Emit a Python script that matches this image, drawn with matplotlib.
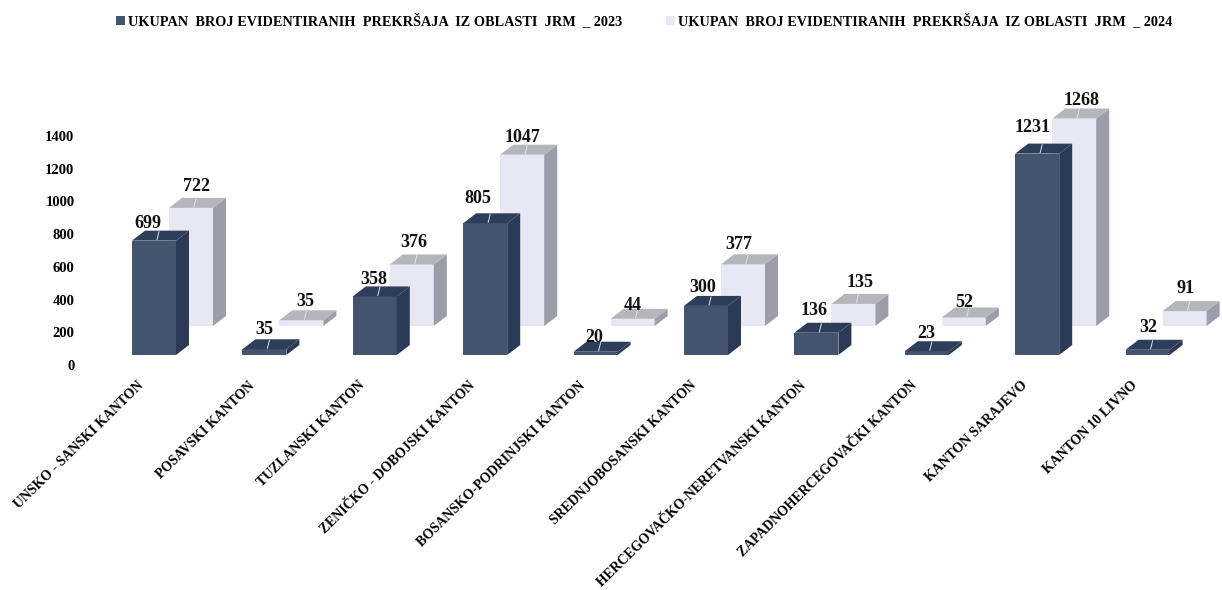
import matplotlib.pyplot as plt
from matplotlib.patches import Polygon

# Data
kantoni = ['UNSKO - SANSKI KANTON', 'POSAVSKI KANTON', 'TUZLANSKI KANTON', 'ZENIČKO - DOBOJSKI KANTON',
           'BOSANSKO-PODRINJSKI KANTON', 'SREDNJOBOSANSKI KANTON', 'HERCEGOVAČKO-NERETVANSKI KANTON',
           'ZAPADNOHERCEGOVAČKI KANTON', 'KANTON SARAJEVO', 'KANTON 10 LIVNO']
prekrsaji_2023 = [699, 35, 358, 805, 20, 300, 136, 23, 1231, 32]
prekrsaji_2024 = [722, 35, 376, 1047, 44, 377, 135, 52, 1268, 91]
y_ticks = [0, 200, 400, 600, 800, 1000, 1200, 1400]
label_2023 = 'UKUPAN  BROJ EVIDENTIRANIH  PREKRŠAJA  IZ OBLASTI  JRM  _ 2023'
label_2024 = 'UKUPAN  BROJ EVIDENTIRANIH  PREKRŠAJA  IZ OBLASTI  JRM  _ 2024'

# Label nudges in pixels (dx, dy above the front top edge)
nudge_2023 = [(-6, 17), (0, 20), (-1, 17), (-7, 25), (-1, 14), (-3, 18), (-2, 22), (-1, 18), (-5, 26), (1, 22)]
nudge_2024 = [(5, 21), (4, 19), (2, 22), (0, 17), (0, 13), (-4, 20), (7, 21), (0, 15), (7, 18), (1, 23)]

plt.rcParams['font.family'] = ['Liberation Serif', 'DejaVu Serif']
plt.rcParams['font.weight'] = 'bold'

W, H = 1222, 590
PX_X = 110.4      # pixels per category
PX_Y = 0.1636     # pixels per value unit
AX_LEFT = 80

fig = plt.figure(figsize=(W / 100, H / 100), dpi=100)
# axis zero sits at pixel row 365, top of the axes at row 0
ax = fig.add_axes([AX_LEFT / W, (H - 365) / H, (W - AX_LEFT) / W, 365 / H])
ax.set_xlim((AX_LEFT - 154) / PX_X, (W - 154) / PX_X)
ax.set_ylim(0, 365 / PX_Y)

bar_w = 44 / PX_X
depth_x = 13 / PX_X
depth_y = 10 / PX_Y


def draw_series(values, name, shift_x, floor, front, side, top, nudge):
    xs = [i + shift_x for i in range(len(values))]
    bars = ax.bar(xs, values, width=bar_w, bottom=floor, color=front, label=name, zorder=3, linewidth=0)
    for x, v, (dx, dy) in zip(xs, values, nudge):
        left, right = x - bar_w / 2, x + bar_w / 2
        y0, y1 = floor, floor + v
        ax.add_patch(Polygon([(right, y0), (right + depth_x, y0 + depth_y), (right + depth_x, y1 + depth_y), (right, y1)],
                             closed=True, fc=side, ec='none', zorder=3))
        ax.add_patch(Polygon([(left, y1), (left + depth_x, y1 + depth_y), (right + depth_x, y1 + depth_y), (right, y1)],
                             closed=True, fc=top, ec='none', zorder=3))
        # thin leader line into the top face
        ax.plot([x + 3 / PX_X, x + 5 / PX_X], [y1 + 1 / PX_Y, y1 + 9 / PX_Y], color='#dfe2e8', lw=0.7, zorder=4)
        ax.text(x + dx / PX_X, y1 + dy / PX_Y, str(v), ha='center', va='center', fontsize=13, color='#111111', zorder=5)
    return bars


floor_2023 = 10 / PX_Y
floor_2024 = 39 / PX_Y
b24 = draw_series(prekrsaji_2024, label_2024, 37 / PX_X, floor_2024, '#e6e8f4', '#9b9da8', '#b5b6bc', nudge_2024)
b23 = draw_series(prekrsaji_2023, label_2023, 0, floor_2023, '#44546f', '#2b3a56', '#2d3d5a', nudge_2023)

ax.set_yticks(y_ticks)
ax.tick_params(axis='y', length=0, pad=4, labelsize=10.5)
ax.set_xticks([i - 0.15 for i in range(len(kantoni))])
ax.set_xticklabels(kantoni, rotation=44.5, ha='right', rotation_mode='anchor', fontsize=9.9)
ax.tick_params(axis='x', length=0, pad=10)
for s in ax.spines.values():
    s.set_visible(False)

fig.legend(handles=[b23, b24], labels=[label_2023, label_2024], ncol=2, frameon=False, loc='upper left',
           bbox_to_anchor=(105 / W, 1 - 2 / H), fontsize=10.3, handlelength=0.6, handleheight=0.6,
           handletextpad=0.2, columnspacing=3.1, borderpad=0.3)

fig.savefig('out.png', dpi=100)
